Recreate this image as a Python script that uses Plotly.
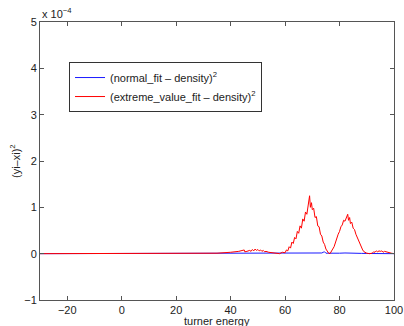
import plotly.graph_objects as go

# values in units of 1e-4
red_x = [-30, 20, 30, 35, 40, 43, 45, 45.2, 46, 47, 47.5, 48, 48.5, 49, 49.5, 50, 50.5, 51, 51.5, 52, 52.5, 53, 54, 55, 56, 57, 58,
         59, 60, 60.5, 61, 61.5, 62, 62.5, 63, 63.5, 64, 64.5, 65, 65.5, 66, 66.5, 67, 67.5, 68, 68.5, 69, 69.3, 69.7, 70, 70.5,
         71, 71.5, 72, 72.5, 73, 73.5, 74, 74.5, 75, 75.5, 76, 76.5, 77, 77.5, 78, 78.5, 79, 79.5, 80, 80.5, 81, 81.5, 82, 82.5,
         83, 83.3, 83.7, 84, 84.5, 85, 85.5, 86, 86.5, 87, 87.5, 88, 88.5, 89, 90, 91, 92, 92.5, 93, 93.5, 94, 94.5, 95, 95.5,
         96, 96.5, 97, 98, 99, 100]
red_y = [0, 0, 0.003, 0.01, 0.03, 0.05, 0.08, 0.04, 0.05, 0.07, 0.05, 0.09, 0.06, 0.1, 0.07, 0.09, 0.06, 0.08, 0.05, 0.07, 0.04, 0.05, 0.03, 0.02, 0.01, 0.003, 0,
         0.03, 0.02, 0.08, 0.06, 0.15, 0.12, 0.25, 0.22, 0.35, 0.32, 0.48, 0.44, 0.6, 0.55, 0.75, 0.7, 0.9, 0.85, 1.05, 1.25, 1.0, 1.1, 0.95, 0.98,
         0.78, 0.8, 0.6, 0.58, 0.42, 0.38, 0.25, 0.2, 0.1, 0.06, 0.01, 0, 0.04, 0.1, 0.15, 0.25, 0.3, 0.42, 0.48, 0.58, 0.62, 0.72, 0.7, 0.8,
         0.85, 0.72, 0.78, 0.65, 0.68, 0.55, 0.52, 0.42, 0.35, 0.3, 0.2, 0.15, 0.08, 0.04, 0.01, 0, 0.01, 0.04, 0.03, 0.06, 0.04, 0.06, 0.05, 0.06,
         0.03, 0.05, 0.04, 0.02, 0.01, 0]
blue_x = [-30, 55, 60, 62, 64, 66, 68, 70, 72, 73.5, 74, 74.5, 75, 76, 78, 80, 82, 84, 86, 88, 90, 95, 100]
blue_y = [0, 0, 0.005, 0.01, 0.004, 0.01, 0.006, 0.012, 0.008, 0.015, 0.03, 0.04, 0.01, 0.008, 0.015, 0.01, 0.015, 0.008, 0.012, 0.006, 0.004, 0.002, 0]

x_ticks = [-20, 0, 20, 40, 60, 80, 100]
y_ticks = [-1, 0, 1, 2, 3, 4, 5]
names = ["(normal_fit – density)<sup>2</sup>", "(extreme_value_fit – density)<sup>2</sup>"]

fig = go.Figure()
fig.add_trace(go.Scatter(x=blue_x, y=blue_y, mode="lines", name=names[0], line=dict(color="#1a1aff", width=1)))
fig.add_trace(go.Scatter(x=red_x, y=red_y, mode="lines", name=names[1], line=dict(color="#ff0000", width=1)))

axis_common = dict(showgrid=False, zeroline=False, showline=True, linecolor="#555", linewidth=1, mirror="ticks",
                   ticks="inside", ticklen=4, tickcolor="#555", tickfont=dict(size=11, color="#222"),
                   automargin=False, ticklabeloverflow="allow")
fig.update_layout(
    width=404, height=326,
    margin=dict(l=40, r=10, t=22, b=26),
    paper_bgcolor="white", plot_bgcolor="white",
    font=dict(family="Liberation Sans, Arial, sans-serif", size=11, color="#222"),
    xaxis=dict(range=[-30, 100], tickvals=x_ticks, **axis_common),
    yaxis=dict(range=[-1, 5], tickvals=y_ticks, **axis_common),
    legend=dict(x=0.082, y=0.856, xanchor="left", yanchor="top", bordercolor="#333", borderwidth=1,
                bgcolor="white", font=dict(size=11), tracegroupgap=0, itemwidth=30),
    showlegend=True,
)
fig.add_annotation(text="x 10<sup>−4</sup>", xref="paper", yref="paper", x=0.0, y=1.0, xanchor="left", yanchor="bottom",
                   showarrow=False, font=dict(size=11, color="#222"), yshift=0)
fig.add_annotation(text="turner energy", xref="paper", yref="paper", x=0.5, y=0, xanchor="center", yanchor="top",
                   showarrow=False, font=dict(size=11, color="#222"), yshift=-13)
fig.add_annotation(text="(yi–xi)<sup>2</sup>", xref="paper", yref="paper", x=0, y=0.5, xanchor="center", yanchor="middle",
                   showarrow=False, textangle=-90, font=dict(size=11, color="#222"), xshift=-25)
fig.write_html("out.html", config={"displayModeBar": False},
               post_script="document.body.style.margin='0';document.body.style.overflow='hidden';")
